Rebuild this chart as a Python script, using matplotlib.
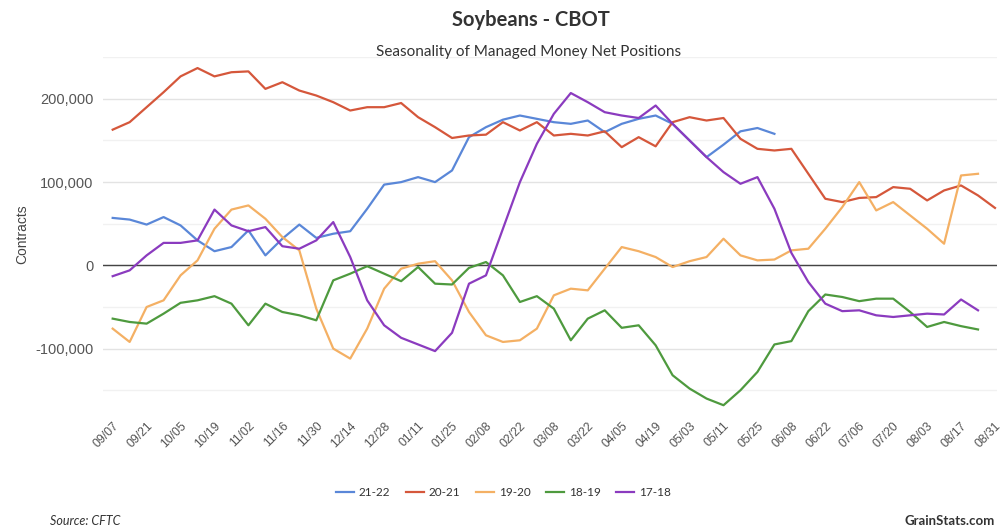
import matplotlib
matplotlib.use("Agg")
import matplotlib.pyplot as plt
from matplotlib.ticker import MultipleLocator, FuncFormatter

# ---- data ----
week_labels = ["09/07", "09/21", "10/05", "10/19", "11/02", "11/16", "11/30", "12/14",
               "12/28", "01/11", "01/25", "02/08", "02/22", "03/08", "03/22", "04/05",
               "04/19", "05/03", "05/11", "05/25", "06/08", "06/22", "07/06", "07/20",
               "08/03", "08/17", "08/31"]

s_21_22 = [57000, 55000, 49000, 58000, 48000, 30000, 17000, 22000, 42000, 12000,
           32000, 49000, 33000, 38000, 41000, 68000, 97000, 100000, 106000, 100000,
           114000, 154000, 166000, 175000, 180000, 176000, 172000, 170000, 174000, 160000,
           170000, 176000, 180000, 170000, 150000, 130000, 145000, 161000, 165000, 158000]

s_20_21 = [163000, 172000, 190000, 208000, 227000, 237000, 227000, 232000, 233000, 212000,
           220000, 210000, 204000, 196000, 186000, 190000, 190000, 195000, 178000, 166000,
           153000, 156000, 157000, 172000, 162000, 172000, 156000, 158000, 156000, 161000,
           142000, 154000, 143000, 172000, 178000, 174000, 177000, 152000, 140000, 138000,
           140000, 110000, 80000, 76000, 81000, 82000, 94000, 92000, 78000, 90000,
           96000, 84000, 69000]

s_19_20 = [-76000, -92000, -50000, -42000, -12000, 6000, 44000, 67000, 72000, 56000,
           34000, 18000, -52000, -100000, -112000, -76000, -28000, -4000, 2000, 5000,
           -18000, -56000, -84000, -92000, -90000, -76000, -36000, -28000, -30000, -4000,
           22000, 17000, 10000, -2000, 5000, 10000, 32000, 12000, 6000, 7000,
           18000, 20000, 44000, 70000, 100000, 66000, 76000, 60000, 44000, 26000,
           108000, 110000]

s_18_19 = [-64000, -68000, -70000, -58000, -45000, -42000, -37000, -46000, -72000, -46000,
           -56000, -60000, -66000, -18000, -10000, -1000, -10000, -19000, -2000, -22000,
           -23000, -3000, 4000, -12000, -44000, -37000, -52000, -90000, -64000, -54000,
           -75000, -72000, -96000, -132000, -148000, -160000, -168000, -150000, -128000, -95000,
           -91000, -55000, -35000, -38000, -43000, -40000, -40000, -56000, -74000, -68000,
           -73000, -77000]

s_17_18 = [-13000, -6000, 12000, 27000, 27000, 30000, 67000, 48000, 41000, 46000,
           23000, 20000, 30000, 52000, 10000, -42000, -72000, -87000, -95000, -103000,
           -81000, -22000, -12000, 44000, 100000, 146000, 182000, 207000, 196000, 184000,
           180000, 177000, 192000, 170000, 150000, 130000, 112000, 98000, 106000, 68000,
           15000, -20000, -46000, -55000, -54000, -60000, -62000, -60000, -58000, -59000,
           -41000, -54000]

series = [("21-22", s_21_22, "#5a87d8"),
          ("20-21", s_20_21, "#d5573b"),
          ("19-20", s_19_20, "#f4b064"),
          ("18-19", s_18_19, "#4e9a3e"),
          ("17-18", s_17_18, "#8b3bbf")]

# ---- figure ----
fig = plt.figure(figsize=(10.03, 5.30), dpi=100)
ax = fig.add_axes([0.1027, 0.226, 0.891, 0.666])

for name, vals, col in series:
    ax.plot(range(len(vals)), vals, color=col, lw=1.6, label=name, zorder=3)

ax.axhline(0, color="#444444", lw=1.0, zorder=2)

ax.set_xlim(-0.57, 52.1)
ax.set_ylim(-174000, 250000)

ax.yaxis.set_major_locator(MultipleLocator(100000))
ax.yaxis.set_minor_locator(MultipleLocator(50000))
ax.yaxis.set_major_formatter(FuncFormatter(lambda v, p: f"{int(v):,}"))
ax.grid(axis="y", which="major", color="#e3e3e3", lw=1.0, zorder=0)
ax.grid(axis="y", which="minor", color="#f1f1f1", lw=1.0, zorder=0)

ax.set_xticks(range(0, 2 * len(week_labels), 2))
ax.set_xticklabels(week_labels, rotation=45, ha="right", rotation_mode="anchor",
                   fontsize=8.8, color="#555555", family="Liberation Sans")
for lbl in ax.get_yticklabels():
    lbl.set_family("Liberation Sans")
ax.tick_params(axis="y", which="both", length=0, labelsize=10.5, labelcolor="#555555", pad=7)
ax.tick_params(axis="x", length=0, pad=7)
for sp in ax.spines.values():
    sp.set_visible(False)

ax.set_ylabel("Contracts", fontsize=10, color="#444444", family="Liberation Sans")
ax.yaxis.set_label_coords(-0.083, 0.5)

fig.text(0.529, 0.962, "Soybeans - CBOT", ha="center", va="center",
         fontsize=14.5, fontweight="bold", color="#333333", family="Lato")
fig.text(0.527, 0.902, "Seasonality of Managed Money Net Positions", ha="center", va="center",
         fontsize=11, color="#333333", family="Lato")

leg = fig.legend(loc="center", bbox_to_anchor=(0.502, 0.070), ncol=5, frameon=False,
                 fontsize=8.5, handlelength=1.5, columnspacing=1.3, handletextpad=0.45)
for t in leg.get_texts():
    t.set_color("#333333")
    t.set_family("Lato")

fig.text(0.05, 0.017, "Source: CFTC", ha="left", va="center", fontsize=9,
         style="italic", color="#333333", family="Lato")
fig.text(0.992, 0.017, "GrainStats.com", ha="right", va="center", fontsize=9.5,
         fontweight="bold", color="#333333", family="Lato")

fig.savefig("out.png", dpi=100, facecolor="white")
